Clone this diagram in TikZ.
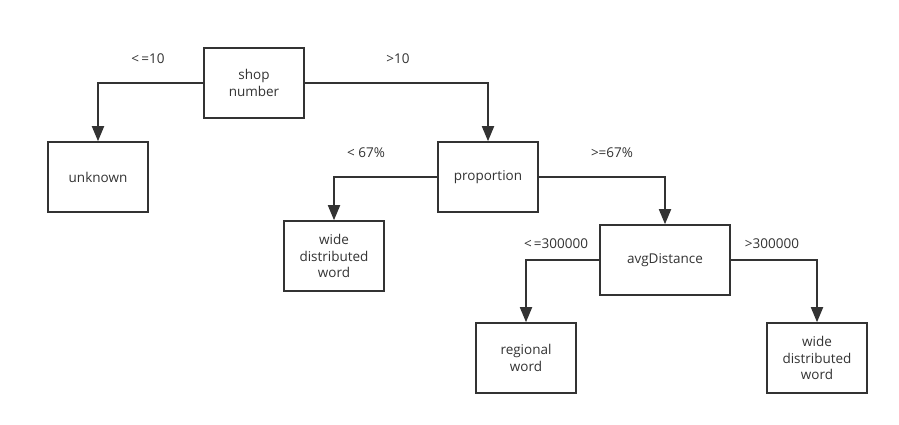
\documentclass[tikz,border=0pt]{standalone}
\usepackage{fontspec}
\setmainfont{Open Sans}
\usetikzlibrary{arrows.meta}
\definecolor{ink}{HTML}{333333}
\begin{document}
\begin{tikzpicture}[x=1pt,y=-1pt,
  box/.style={draw=ink,line width=1.6pt,minimum width=100pt,minimum height=70pt,align=center,font=\fontsize{13.5}{16.5}\selectfont,text=ink,inner sep=0pt},
  lbl/.style={font=\fontsize{13.5}{16}\selectfont,text=ink},
  conn/.style={draw=ink,line width=1.8pt,-{Triangle[length=15pt,width=12pt]}}]
\useasboundingbox[fill=white] (0,0) rectangle (899,425);
\node[box] (shop) at (254,83) {shop\\number};
\node[box] (unk) at (98,177) {unknown};
\node[box] (prop) at (488,177) {proportion};
\node[box] (wide1) at (334,256) {wide\\distributed\\word};
\node[box,minimum width=130pt] (avg) at (665,260) {avgDistance};
\node[box] (reg) at (526,358) {regional\\word};
\node[box] (wide2) at (817,358) {wide\\distributed\\word};
\draw[conn] (shop.west) -| (unk.north);
\draw[conn] (shop.east) -| (prop.north);
\draw[conn] (prop.west) -| (wide1.north);
\draw[conn] (prop.east) -| (avg.north);
\draw[conn] (avg.west) -| (reg.north);
\draw[conn] (avg.east) -| (wide2.north);
\node[lbl] (l1) at (148,59) {<\,=10};
\node[lbl] (l2) at (398,59) {>10};
\node[lbl] (l3) at (366,153) {< 67\%};
\node[lbl] (l4) at (612,153) {>=67\%};
\node[lbl] (l5) at (556,244) {<\,=300000};
\node[lbl] (l6) at (772,244) {>300000};
\end{tikzpicture}
\end{document}
